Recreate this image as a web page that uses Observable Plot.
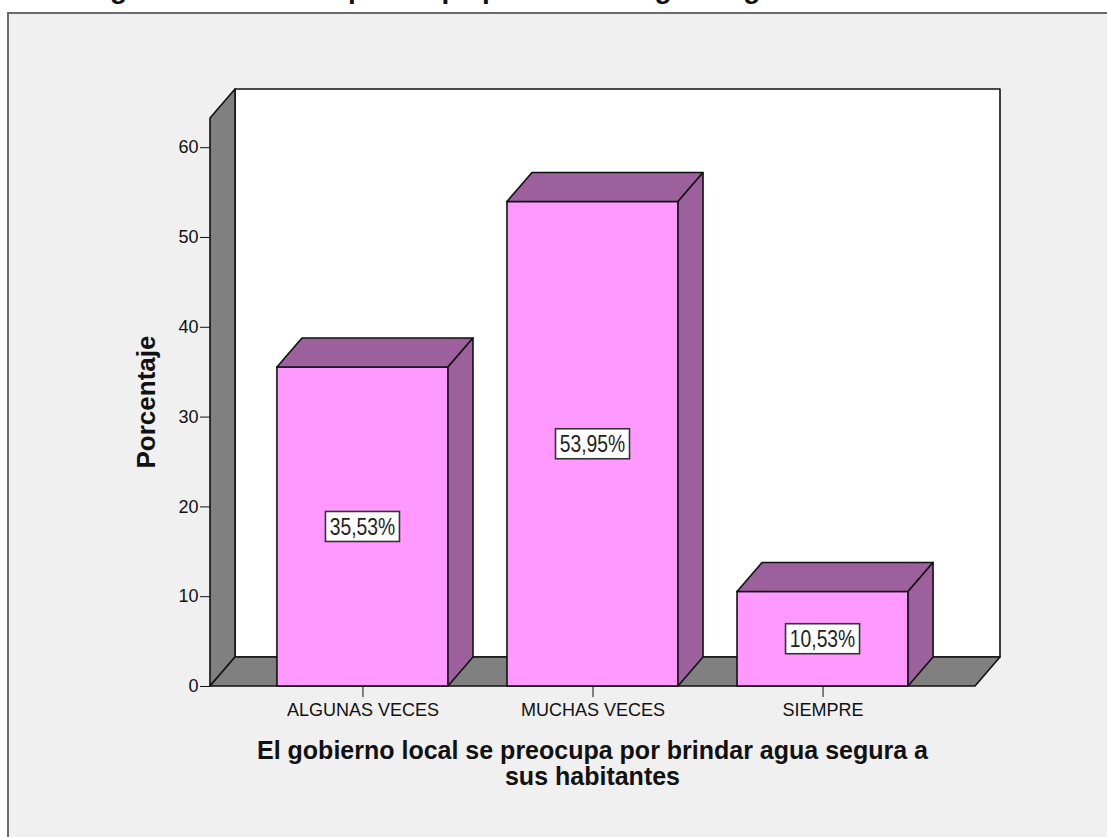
<!DOCTYPE html>
<html><head><meta charset="utf-8">
<script src="https://cdn.jsdelivr.net/npm/d3@7"></script>
<script src="https://cdn.jsdelivr.net/npm/@observablehq/plot@0.6"></script>
<style>
body{margin:0;background:#fff;font-family:"Liberation Sans",Arial,sans-serif;}
#wrap{position:relative;width:1107px;height:837px;overflow:hidden;}
#frame{position:absolute;left:7px;top:12px;width:1200px;height:900px;border:2px solid #6b6b6b;background:#f0f0f0;box-sizing:border-box}
#title{position:absolute;left:0;width:1107px;top:-27px;text-align:center;font-weight:bold;font-size:28px;line-height:32px;color:#111;white-space:nowrap}
#chart{position:absolute;left:0;top:0}
#xtitle{position:absolute;left:210px;width:765px;top:737px;text-align:center;font-weight:bold;font-size:25px;line-height:26px;color:#111}
#ytitle{position:absolute;left:146px;top:402px;transform:translate(-50%,-50%) rotate(-90deg);font-weight:bold;font-size:26px;white-space:nowrap;color:#111}
</style></head>
<body>
<div id="wrap">
  <div id="frame"></div>
  <div id="title">El gobierno local se preocupa por brindar agua segura a sus habitantes</div>
  <div id="chart"></div>
  <div id="ytitle">Porcentaje</div>
  <div id="xtitle">El gobierno local se preocupa por brindar agua segura a<br>sus habitantes</div>
</div>
<script>
const categories = ["ALGUNAS VECES", "MUCHAS VECES", "SIEMPRE"];
const percentages = [35.53, 53.95, 10.53];
const yTicks = [0, 10, 20, 30, 40, 50, 60];
const yMax = 63.25;

const data = categories.map((c, i) => ({category: c, value: percentages[i]}));
const DX = 25, DY = -29; // 3D depth offset
const fmt = v => v.toFixed(2).replace(".", ",") + "%";

function poly(g, pts, fill) {
  g.append("polygon")
    .attr("points", pts.map(p => p.join(",")).join(" "))
    .attr("fill", fill).attr("stroke", "#111").attr("stroke-width", 1.6)
    .attr("stroke-linejoin", "round");
}

const walls = (index, scales) => {
  const g = d3.create("svg:g");
  const [x0, x1] = scales.x.range();
  const yb = scales.y(0), yt = scales.y(yMax);
  poly(g, [[x0 + DX, yt + DY], [x1 + DX, yt + DY], [x1 + DX, yb + DY], [x0 + DX, yb + DY]], "#ffffff");
  poly(g, [[x0, yb], [x0, yt], [x0 + DX, yt + DY], [x0 + DX, yb + DY]], "#808080");
  poly(g, [[x0, yb], [x1, yb], [x1 + DX, yb + DY], [x0 + DX, yb + DY]], "#808080");
  return g.node();
};

const faces = (index, scales) => {
  const g = d3.create("svg:g");
  const bw = scales.x.bandwidth();
  for (const d of data) {
    const xl = scales.x(d.category), xr = xl + bw;
    const yt = scales.y(d.value), yb = scales.y(0);
    poly(g, [[xl, yt], [xr, yt], [xr + DX, yt + DY], [xl + DX, yt + DY]], "#9c609c");
    poly(g, [[xr, yb], [xr, yt], [xr + DX, yt + DY], [xr + DX, yb + DY]], "#9c609c");
  }
  return g.node();
};

const labels = (index, scales) => {
  const g = d3.create("svg:g");
  const bw = scales.x.bandwidth();
  for (const d of data) {
    const cx = scales.x(d.category) + bw / 2, cy = scales.y(d.value / 2);
    g.append("rect").attr("x", cx - 37).attr("y", cy - 15)
      .attr("width", 74).attr("height", 30)
      .attr("fill", "#fff").attr("stroke", "#333").attr("stroke-width", 1.6);
    g.append("text")
      .attr("transform", `translate(${cx},${cy}) scale(0.84,1)`)
      .attr("text-anchor", "middle").attr("dy", "0.36em")
      .attr("font-size", 23).attr("fill", "#222")
      .text(fmt(d.value));
  }
  return g.node();
};

const chart = Plot.plot({
  width: 1107, height: 837,
  marginLeft: 210, marginRight: 132, marginTop: 118, marginBottom: 151,
  style: {background: "transparent", overflow: "visible", fontFamily: "'Liberation Sans', Arial, sans-serif", fontSize: "18px", color: "#111"},
  x: {domain: categories, paddingInner: 0.2565, paddingOuter: 0.291, round: false, tickSize: 11, tickPadding: 6, label: null},
  y: {domain: [0, yMax], ticks: yTicks, tickSize: 10, tickPadding: 2, label: null},
  marks: [
    walls,
    Plot.barY(data, {x: "category", y: "value", fill: "#ff99ff", stroke: "#111", strokeWidth: 1.6}),
    faces,
    labels
  ]
});
document.getElementById("chart").appendChild(chart);
</script>
</body></html>
